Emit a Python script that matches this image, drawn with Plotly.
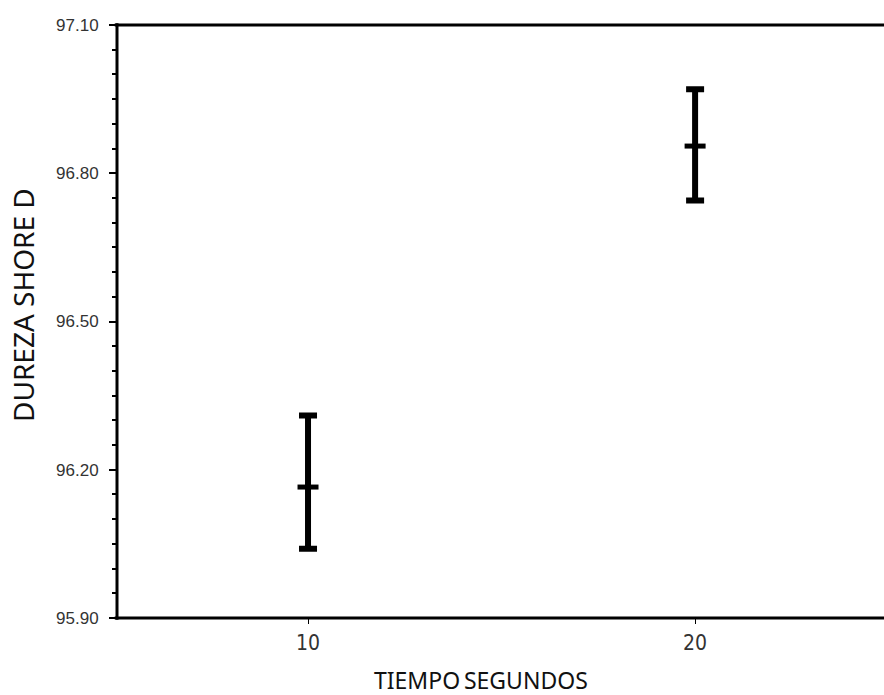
import plotly.graph_objects as go

# Shore D hardness by curing time: mean with interval limits
tiempo = [10, 20]
dureza_media = [96.165, 96.855]
dureza_sup = [96.31, 96.97]
dureza_inf = [96.04, 96.745]

y_ticks = [95.90, 96.20, 96.50, 96.80, 97.10]
x_ticks = [10, 20]

err_plus = [s - m for s, m in zip(dureza_sup, dureza_media)]
err_minus = [m - i for m, i in zip(dureza_media, dureza_inf)]

fig = go.Figure()
fig.add_trace(go.Scatter(
    x=tiempo,
    y=dureza_media,
    mode="markers",
    marker=dict(symbol="line-ew", size=15, color="black",
                line=dict(color="black", width=5)),
    error_y=dict(type="data", symmetric=False, array=err_plus,
                 arrayminus=err_minus, color="black", thickness=6, width=9),
    showlegend=False,
))

W, H = 884, 695
L, R, T, B = 117, 0, 25, 77
pw, ph = W - L - R, H - T - B

frame = dict(color="black", width=3)

fig.update_layout(
    width=W, height=H,
    margin=dict(l=L, r=R, t=T, b=B, autoexpand=False),
    paper_bgcolor="white", plot_bgcolor="white",
    xaxis=dict(
        range=[5.065, 24.88], tickvals=x_ticks,
        ticktext=[str(v) for v in x_ticks],
        showgrid=False, zeroline=False, showline=False,
        ticks="outside", ticklen=5, tickwidth=1,
        tickcolor="black", ticklabelstandoff=1,
        tickfont=dict(family="Liberation Sans Narrow, DejaVu Sans Condensed, sans-serif",
                      size=21, color="#333333"),
    ),
    yaxis=dict(
        range=[95.90, 97.10], tickvals=y_ticks, tickformat=".2f",
        showgrid=False, zeroline=False, showline=False,
        ticks="outside", ticklen=7, tickwidth=2, tickcolor="black",
        ticklabelstandoff=7,
        minor=dict(dtick=0.05, tick0=95.90, ticks="outside", ticklen=4,
                   tickwidth=1.5, tickcolor="black", showgrid=False),
        tickfont=dict(family="Liberation Sans, Arial, sans-serif", size=17,
                      color="#333333"),
    ),
    shapes=[
        # open right side: keep the right edge clear
        dict(type="rect", xref="paper", yref="paper", x0=(872 - L) / pw, x1=1.05,
             y0=0.01, y1=0.99, fillcolor="white", line=dict(width=0), layer="above"),
        # frame: left, bottom and top edges of the plotting area
        dict(type="line", xref="paper", yref="paper", x0=0, x1=0, y0=-0.003, y1=1.003,
             line=frame),
        dict(type="line", xref="paper", yref="paper", x0=-0.003, x1=1.02,
             y0=0, y1=0, line=frame),
        dict(type="line", xref="paper", yref="paper", x0=-0.003, x1=1.02,
             y0=1, y1=1, line=frame),
    ],
    annotations=[
        dict(text="DUREZA SHORE D", textangle=-90, xref="paper", yref="paper",
             x=(23 - L) / pw, y=(H - B - 305) / ph, xanchor="center",
             yanchor="middle", showarrow=False,
             font=dict(family="Noto Sans, Open Sans, sans-serif", size=28,
                       color="#111111")),
        dict(text="TIEMPO\u2009SEGUNDOS", xref="paper", yref="paper",
             x=(481 - L) / pw, y=(H - B - 680) / ph, xanchor="center",
             yanchor="middle", showarrow=False,
             font=dict(family="Noto Sans, Open Sans, sans-serif", size=23,
                       color="#111111")),
    ],
)

fig.write_html("out.html")
